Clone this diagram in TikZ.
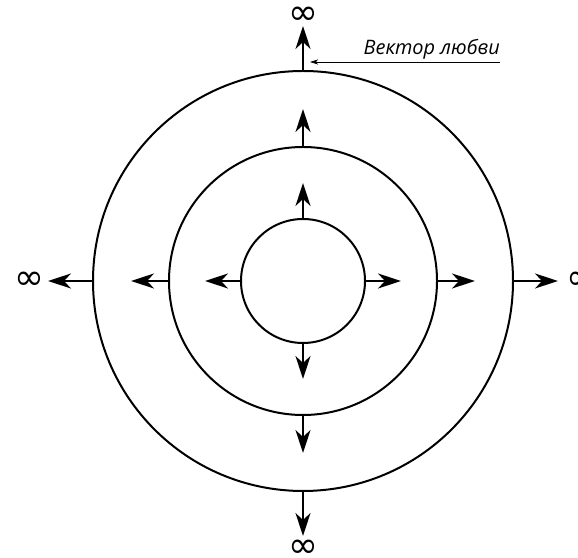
\documentclass[tikz,border=0pt]{standalone}
\usepackage{fontspec}
\setmainfont{Open Sans}
\newfontfamily\symfont{DejaVu Sans}
\usetikzlibrary{arrows.meta,calc}
\begin{document}
\begin{tikzpicture}[x=1bp,y=1bp,
  ring/.style={draw=black,line width=2bp},
  ray/.style={line width=2bp,-{Stealth[length=23bp,width=15bp,inset=7bp]}},
  inf/.style={inner sep=0pt,font=\symfont\fontsize{36}{36}\selectfont},
  pointer/.style={line width=0.7bp,-{Stealth[length=8bp,width=5bp,inset=2bp]}}]
\useasboundingbox (0,0) rectangle (578,558);
\coordinate (c) at (303,277);
\draw[ring] (c) circle[radius=62];
\draw[ring] (c) circle[radius=134];
\draw[ring] (c) circle[radius=210];
\foreach \a in {90,180,0,270}{
  \draw[ray] ($(c)+(\a:62)$) -- ($(c)+(\a:98)$);
  \draw[ray] ($(c)+(\a:134)$) -- ($(c)+(\a:172)$);
  \draw[ray] ($(c)+(\a:210)$) -- ($(c)+(\a:255)$);
}
\node[inf] (it) at (303,542) {∞};
\node[inf] (ib) at (303,9) {∞};
\node[inf] (il) at (29,277) {∞};
\node[inf,anchor=west] (ir) at (566,277) {∞};
\node[anchor=base east,inner sep=0pt,font=\itshape\fontsize{20}{20}\selectfont] (lab) at (500,503) {Вектор любви};
\coordinate (pe) at (500,496);
\coordinate (pt) at (310,496);
\draw[pointer] (pe) -- (pt);
\end{tikzpicture}
\end{document}
